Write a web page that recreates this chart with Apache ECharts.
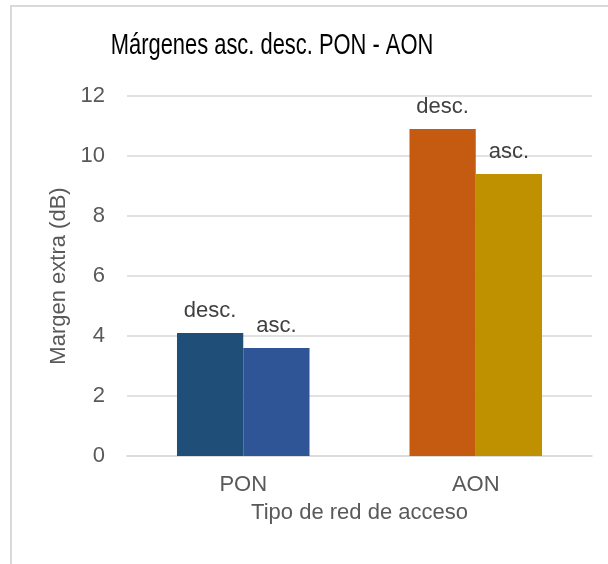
<!DOCTYPE html>
<html>
<head>
<meta charset="utf-8">
<script src="https://cdn.jsdelivr.net/npm/echarts@6/dist/echarts.min.js"></script>
<style>
  html, body { margin: 0; padding: 0; background: #fff; }
  #chart { width: 608px; height: 564px; }
</style>
</head>
<body>
<div id="chart"></div>
<script>
// Access-network types and the extra margin (dB) measured per direction
const categories = ['PON', 'AON'];
const descValues = [4.1, 10.9];
const ascValues = [3.6, 9.4];
const descColors = ['#1F4E79', '#C55A11'];
const ascColors = ['#2F5597', '#BF9000'];
const yTicks = { min: 0, max: 12, interval: 2 };
const chartTitle = 'Márgenes asc. desc. PON - AON';

const FONT = '"Liberation Sans", Arial, sans-serif';

const chart = echarts.init(document.getElementById('chart'), null, { renderer: 'canvas' });

function barSeries(name, values, colors) {
  return {
    name: name,
    type: 'bar',
    barGap: '0%',
    barCategoryGap: '43%',
    data: values.map((v, i) => ({ value: v, itemStyle: { color: colors[i] } })),
    label: {
      show: true,
      position: 'top',
      distance: 11,
      formatter: name,
      fontFamily: FONT,
      fontSize: 22,
      color: '#404040'
    }
  };
}

chart.setOption({
  animation: false,
  backgroundColor: '#fff',
  graphic: [
    {
      // light frame around the chart area
      type: 'rect',
      shape: { x: 11, y: 6, width: 700, height: 700 },
      style: { fill: 'none', stroke: '#d9d9d9', lineWidth: 2 },
      silent: true
    },
    {
      // condensed title text
      type: 'text',
      x: 272,
      y: 46,
      scaleX: 0.73,
      style: {
        text: chartTitle,
        x: 0,
        y: 0,
        align: 'center',
        verticalAlign: 'middle',
        font: '30px ' + FONT,
        fill: '#000'
      },
      silent: true
    }
  ],
  grid: { left: 127, right: 16, top: 96, bottom: 108, containLabel: false },
  xAxis: {
    type: 'category',
    data: categories,
    axisTick: { show: false },
    axisLine: { lineStyle: { color: '#d9d9d9', width: 1.5 } },
    axisLabel: { fontFamily: FONT, fontSize: 22, color: '#595959', margin: 18 },
    name: 'Tipo de red de acceso',
    nameLocation: 'middle',
    nameGap: 46,
    nameTextStyle: { fontFamily: FONT, fontSize: 22, color: '#595959' }
  },
  yAxis: {
    type: 'value',
    min: yTicks.min,
    max: yTicks.max,
    interval: yTicks.interval,
    axisLine: { show: false },
    axisTick: { show: false },
    splitLine: { lineStyle: { color: '#d9d9d9', width: 1.5 } },
    axisLabel: { fontFamily: FONT, fontSize: 22, color: '#595959', margin: 22 },
    name: 'Margen extra (dB)',
    nameLocation: 'middle',
    nameGap: 45,
    nameTextStyle: { fontFamily: FONT, fontSize: 22, color: '#595959' }
  },
  series: [
    barSeries('desc.', descValues, descColors),
    barSeries('asc.', ascValues, ascColors)
  ]
});
</script>
</body>
</html>
